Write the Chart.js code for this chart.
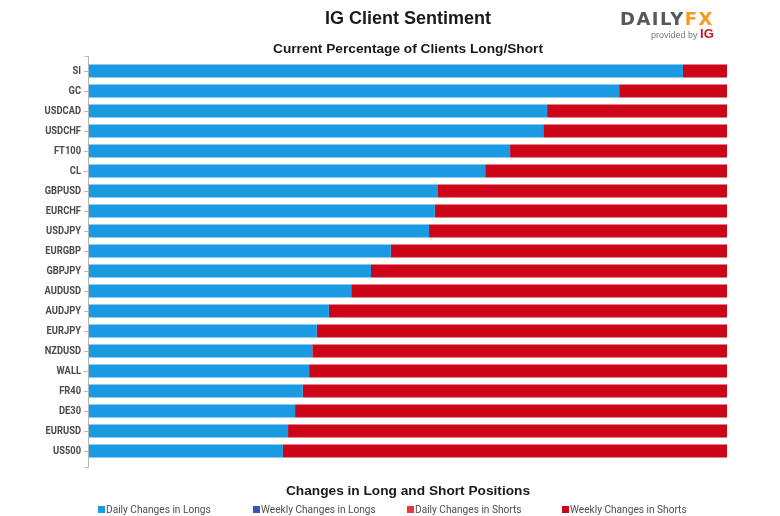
<!DOCTYPE html>
<html>
<head>
<meta charset="utf-8">
<title>IG Client Sentiment</title>
<script src="https://cdn.jsdelivr.net/npm/chart.js@4"></script>
<style>
    html, body { margin: 0; padding: 0; background: #fff; }
    #wrap { position: relative; width: 780px; height: 516px; overflow: hidden; font-family: "Liberation Sans", Arial, sans-serif; }
    #sentimentChart { position: absolute; left: 0; top: 0; }
    .heading { position: absolute; left: 89px; width: 638px; text-align: center; font-weight: bold; color: #1a1a1a; white-space: nowrap; }
    #mainTitle { top: 8px; font-size: 18px; line-height: 20px; }
    #subTitle { top: 41px; font-size: 13.7px; line-height: 16px; }
    #legendTitle { top: 483px; font-size: 13.7px; line-height: 16px; }
    #legend { position: absolute; left: 98px; top: 503px; display: flex; font-family: Roboto, sans-serif; font-size: 11px; line-height: 13px; color: #4d4d4d; }
    #legend div { width: 154.7px; white-space: nowrap; }
    #legend i { display: inline-block; width: 7px; height: 7px; margin-right: 1px; }
    #legend span { display: inline-block; transform: scaleX(0.92); transform-origin: left center; }
    #logo { position: absolute; left: 620px; top: 9px; font-family: "DejaVu Sans", sans-serif; font-weight: bold; font-size: 18px; line-height: 20px; letter-spacing: 1.5px; color: #55585f; white-space: nowrap; }
    #logo span { color: #f79a1e; }
    #provided { position: absolute; left: 651px; top: 28px; font-size: 9px; line-height: 12px; color: #777; white-space: nowrap; }
    #provided b { color: #d0112b; font-size: 13px; }
</style>
</head>
<body>
<div id="wrap">
    <canvas id="sentimentChart" width="780" height="516"></canvas>
    <div class="heading" id="mainTitle">IG Client Sentiment</div>
    <div class="heading" id="subTitle">Current Percentage of Clients Long/Short</div>
    <div class="heading" id="legendTitle">Changes in Long and Short Positions</div>
    <div id="logo">DAILY<span>FX</span></div>
    <div id="provided">provided by <b>IG</b></div>
    <div id="legend"></div>
</div>
<script>
const instruments = ['SI', 'GC', 'USDCAD', 'USDCHF', 'FT100', 'CL', 'GBPUSD', 'EURCHF', 'USDJPY', 'EURGBP',
    'GBPJPY', 'AUDUSD', 'AUDJPY', 'EURJPY', 'NZDUSD', 'WALL', 'FR40', 'DE30', 'EURUSD', 'US500'];
const longs = [93.1, 83.1, 71.8, 71.2, 66.0, 62.1, 54.7, 54.2, 53.3, 47.3,
    44.2, 41.1, 37.6, 35.7, 35.0, 34.5, 33.5, 32.3, 31.2, 30.4];
const shorts = [6.9, 16.9, 28.2, 28.8, 34.0, 37.9, 45.3, 45.8, 46.7, 52.7,
    55.8, 58.9, 62.4, 64.3, 65.0, 65.5, 66.5, 67.7, 68.8, 69.6];
const weeklyLongs = [];
const dailyShorts = [];

// Axis line runs a little past the first and last band
const axisLine = {
    id: 'axisLine',
    afterDraw: function (chart) {
        const ctx = chart.ctx;
        const a = chart.chartArea;
        ctx.save();
        ctx.strokeStyle = '#b5b5b5';
        ctx.lineWidth = 1;
        ctx.beginPath();
        ctx.moveTo(a.left - 4.5, a.top - 4.5);
        ctx.lineTo(a.left - 0.5, a.top - 4.5);
        ctx.lineTo(a.left - 0.5, a.bottom + 6.5);
        ctx.lineTo(a.left - 4.5, a.bottom + 6.5);
        ctx.stroke();
        ctx.restore();
    }
};

// No condensed font installed, so squeeze the tick labels horizontally
const narrowLabels = {
    id: 'narrowLabels',
    afterDraw: function (chart) {
        const ctx = chart.ctx;
        const y = chart.scales.y;
        ctx.save();
        ctx.font = 'bold 11px Roboto, sans-serif';
        ctx.fillStyle = '#4a4a4a';
        ctx.textAlign = 'right';
        ctx.textBaseline = 'middle';
        ctx.translate(y.right - 8, 0);
        ctx.scale(0.85, 1);
        y.ticks.forEach(function (tick, i) {
            ctx.fillText(tick.label, 0, y.getPixelForTick(i));
        });
        ctx.restore();
    }
};

const chart = new Chart(document.getElementById('sentimentChart'), {
    type: 'bar',
    data: {
        labels: instruments,
        datasets: [
            { label: 'Daily Changes in Longs', data: longs, backgroundColor: '#1b9ae4' },
            { label: 'Weekly Changes in Longs', data: weeklyLongs, backgroundColor: '#3b55b0' },
            { label: 'Daily Changes in Shorts', data: dailyShorts, backgroundColor: '#f0323c' },
            { label: 'Weekly Changes in Shorts', data: shorts, backgroundColor: '#cc0519' }
        ]
    },
    options: {
        indexAxis: 'y',
        responsive: false,
        animation: false,
        layout: { padding: { top: 61, bottom: 55, right: 53, left: 0 } },
        datasets: { bar: { categoryPercentage: 1, barPercentage: 0.66 } },
        plugins: { legend: { display: false }, title: { display: false }, tooltip: { enabled: false } },
        scales: {
            x: { stacked: true, min: 0, max: 100, display: false },
            y: {
                stacked: true,
                afterFit: function (axis) { axis.width = 89; },
                border: { display: false },
                grid: { drawOnChartArea: false, offset: false, tickLength: 5, color: '#c9b4b4' },
                ticks: { autoSkip: false, color: 'rgba(0,0,0,0)', padding: 3, font: { size: 11 } }
            }
        }
    },
    plugins: [axisLine, narrowLabels]
});

// Legend cells are evenly spaced, so build them from the datasets
chart.data.datasets.forEach(function (ds) {
    const item = document.createElement('div');
    const box = document.createElement('i');
    const text = document.createElement('span');
    box.style.background = ds.backgroundColor;
    text.textContent = ds.label;
    item.appendChild(box);
    item.appendChild(text);
    document.getElementById('legend').appendChild(item);
});
</script>
</body>
</html>
